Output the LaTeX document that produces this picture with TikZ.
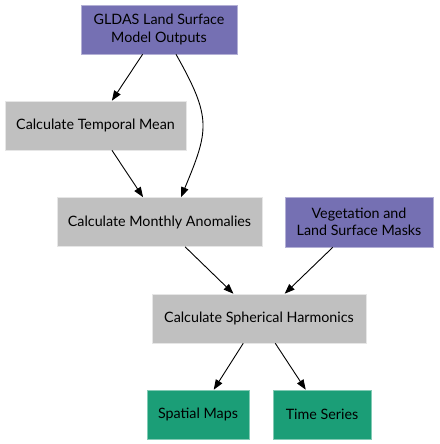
\documentclass[tikz,border=0pt]{standalone}
\usepackage{fontspec}
\setmainfont{Lato}
\usetikzlibrary{arrows.meta}
\definecolor{cpurple}{HTML}{7570B3}
\definecolor{cgrey}{HTML}{C0C0C0}
\definecolor{cgreen}{HTML}{1B9E77}
\begin{document}
\begin{tikzpicture}[x=1pt,y=-1pt,
  box/.style={rectangle, inner sep=0pt, align=center, font=\fontsize{14.3}{17.5}\selectfont, line width=0.6pt},
  inbox/.style={box, fill=cpurple, draw=cpurple!55!white},
  procbox/.style={box, fill=cgrey, draw=cgrey!40!white},
  outbox/.style={box, fill=cgreen, draw=cgreen!55!white},
  edge/.style={line width=0.9pt, -{Triangle[length=10pt,width=7.5pt]}}]
\useasboundingbox (0,0) rectangle (439,444);
\node[inbox, minimum width=156, minimum height=49] (gldas) at (159,29.5) {GLDAS Land Surface\\Model Outputs};
\node[procbox, minimum width=181, minimum height=49] (temporal) at (95.5,125.5) {Calculate Temporal Mean};
\node[procbox, minimum width=205, minimum height=49] (monthly) at (159.5,222) {Calculate Monthly Anomalies};
\node[inbox, minimum width=148, minimum height=50] (veg) at (359,222) {Vegetation and\\Land Surface Masks};
\node[procbox, minimum width=214, minimum height=49] (sph) at (259,318.5) {Calculate Spherical Harmonics};
\node[outbox, minimum width=102, minimum height=49] (spatial) at (198,414.5) {Spatial Maps};
\node[outbox, minimum width=98, minimum height=49] (time) at (322,414.5) {Time Series};
\coordinate (cs) at ([xshift=17pt]gldas.south);
\coordinate (ce) at ([xshift=21.5pt]monthly.north);
\draw[edge] (gldas) -- (temporal);
\draw[edge] (cs) .. controls (212,118) and (209,130) .. (ce);
\draw[edge] (temporal) -- (monthly);
\draw[edge] (monthly) -- (sph);
\draw[edge] (veg) -- (sph);
\draw[edge] (sph) -- (spatial);
\draw[edge] (sph) -- (time);
\end{tikzpicture}
\end{document}
